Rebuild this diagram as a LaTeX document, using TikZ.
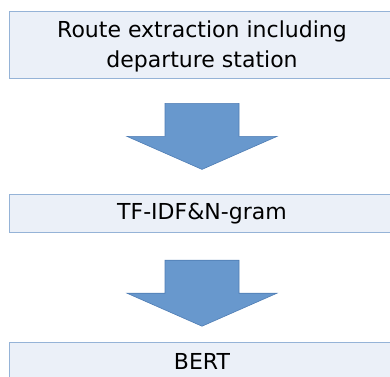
\documentclass[tikz,border=0pt]{standalone}
\usepackage{fontspec}
\setmainfont{DejaVu Sans}
\usetikzlibrary{positioning,calc}
\definecolor{boxfill}{RGB}{235,240,248}
\definecolor{boxline}{RGB}{149,179,215}
\definecolor{arrfill}{RGB}{104,152,205}
\definecolor{arrline}{RGB}{79,125,180}
\tikzset{
	stage/.style={shape=rectangle, draw=boxline, fill=boxfill, line width=0.8pt, minimum width=386pt, align=center, inner sep=0pt, font=\fontsize{22}{30}\selectfont},
	blockarr/.style={draw=arrline, fill=arrfill, line width=0.6pt, line join=miter}
}
\begin{document}
\begin{tikzpicture}[x=1pt, y=1pt]
	\useasboundingbox (0,0) rectangle (390,376);
	% Stages:
	\node[stage, minimum height=67pt, text depth=-2pt] (route) at (202, 331.5){Route extraction including\\departure station};
	\node[stage, minimum height=38pt, below=116pt of route] (tfidf){TF-IDF\&N-gram};
	\node[stage, minimum height=38pt, below=109pt of tfidf] (bert){BERT};
	% Block arrows:
	\coordinate (a1) at ([yshift=-25pt]route.south);
	\coordinate (a2) at ([yshift=-27pt]tfidf.south);
	\foreach \top in {a1, a2}
		\draw[blockarr] ($(\top)+(-37,0)$) -- ++(74,0) -- ++(0,-33) -- ++(38,0) -- ($(\top)+(0,-66)$) -- ($(\top)+(-75,-33)$) -- ++(38,0) -- cycle;
\end{tikzpicture}
\end{document}
